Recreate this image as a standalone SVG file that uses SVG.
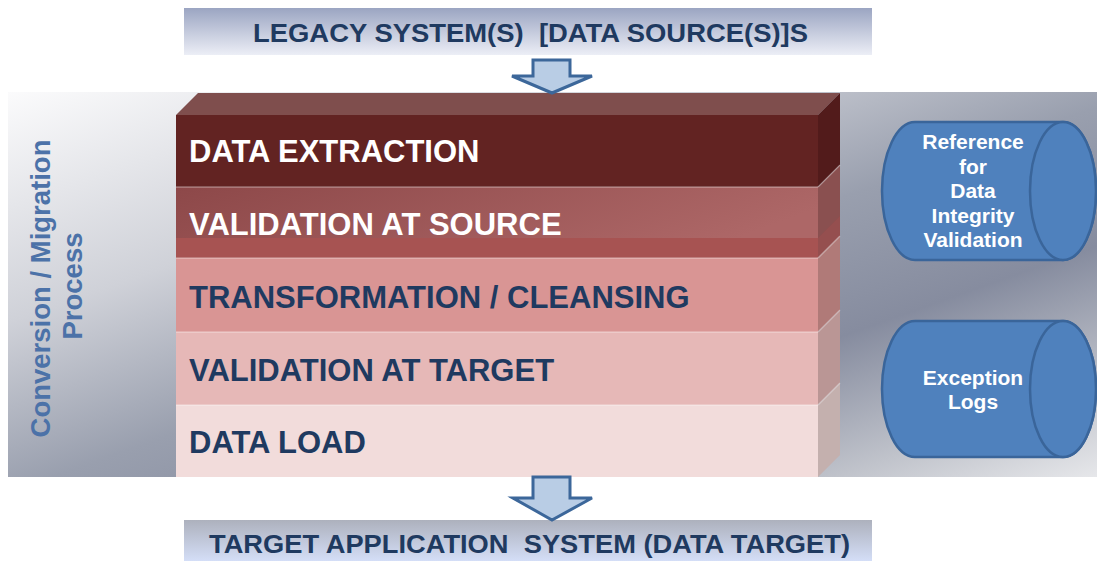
<svg xmlns="http://www.w3.org/2000/svg" width="1097" height="562" viewBox="0 0 1097 562">
<defs>
<linearGradient id="gTop" x1="0" y1="0" x2="0" y2="1">
<stop offset="0" stop-color="#9ba5c2"/><stop offset="1" stop-color="#eceef6"/>
</linearGradient>
<linearGradient id="gBot" x1="0" y1="0" x2="0" y2="1">
<stop offset="0" stop-color="#adb1bd"/><stop offset="1" stop-color="#d4def7"/>
</linearGradient>
<linearGradient id="gPanel" x1="0" y1="0" x2="1" y2="1">
<stop offset="0" stop-color="#fbfbfc"/>
<stop offset="0.3" stop-color="#cfd1d8"/>
<stop offset="0.52" stop-color="#999fae"/>
<stop offset="0.7" stop-color="#868c9f"/>
<stop offset="0.88" stop-color="#c0c3cb"/>
<stop offset="1" stop-color="#e6e7ea"/>
</linearGradient>
<linearGradient id="gRow2" x1="0" y1="0" x2="1" y2="0.3">
<stop offset="0" stop-color="#8d4849"/><stop offset="1" stop-color="#ad6767"/>
</linearGradient>
</defs>
<style>
.lbl{font-family:"Liberation Sans",Arial,sans-serif;font-weight:bold;}
.hdr{font-size:25px;fill:#1f3a60;white-space:pre;}
.row{font-size:31px;}
.dark{fill:#ffffff;}
.light{fill:#1f3a60;}
.side-lbl{font-size:27.5px;fill:#4c72a8;}
.cyl{fill:#4f81bd;stroke:#3a659a;stroke-width:2.5;}
.cyltxt{font-size:21px;fill:#ffffff;text-anchor:middle;}
.sep{stroke:#ffffff;stroke-opacity:0.35;stroke-width:1.5;fill:none;}
.arrow{fill:#b9cde5;stroke:#3c679a;stroke-width:3;stroke-linejoin:miter;}
</style>

<g id="legacy">
<rect x="184" y="8" width="688" height="47" fill="url(#gTop)"/>
<text class="lbl hdr" x="253" y="42" textLength="555" lengthAdjust="spacingAndGlyphs">LEGACY SYSTEM(S)  [DATA SOURCE(S)]S</text>
</g>

<g id="panel">
<rect x="8" y="92" width="1089" height="385" fill="url(#gPanel)"/>
</g>

<g id="process-label">
<text class="lbl side-lbl" transform="translate(50,288.5) rotate(-90)" text-anchor="middle">Conversion / Migration</text>
<text class="lbl side-lbl" transform="translate(82,286) rotate(-90)" text-anchor="middle">Process</text>
</g>

<g id="stack-top">
<polygon points="176,115 198,93 840,93 818,115" fill="#7f4e4d"/>
</g>

<g id="layer-extraction">
<rect x="176" y="115" width="642" height="72" fill="#622322"/>
<polygon points="818,115 840,93 840,165 818,187" fill="#521b1b"/>
<text class="lbl row dark" x="189" y="162">DATA EXTRACTION</text>
</g>

<g id="layer-validation-source">
<rect x="176" y="187" width="642" height="71" fill="url(#gRow2)"/>
<rect x="176" y="238" width="642" height="20" fill="#a75352"/>
<polygon points="818,187 840,165 840,236 818,258" fill="#8a5050"/>
<polygon points="818,238 840,216 840,236 818,258" fill="#9a4f4f" opacity="0.7"/>
<line class="sep" x1="176" y1="187" x2="818" y2="187"/>
<line class="sep" x1="818" y1="187" x2="840" y2="165"/>
<text class="lbl row dark" x="189" y="235">VALIDATION AT SOURCE</text>
</g>

<g id="layer-transformation">
<rect x="176" y="258" width="642" height="74" fill="#d99594"/>
<polygon points="818,258 840,236 840,310 818,332" fill="#b07a78"/>
<line class="sep" x1="176" y1="258" x2="818" y2="258"/>
<line class="sep" x1="818" y1="258" x2="840" y2="236"/>
<text class="lbl row light" x="189" y="308">TRANSFORMATION / CLEANSING</text>
</g>

<g id="layer-validation-target">
<rect x="176" y="332" width="642" height="73" fill="#e6b8b7"/>
<polygon points="818,332 840,310 840,383 818,405" fill="#ba9695"/>
<line class="sep" x1="176" y1="332" x2="818" y2="332"/>
<line class="sep" x1="818" y1="332" x2="840" y2="310"/>
<text class="lbl row light" x="189" y="381">VALIDATION AT TARGET</text>
</g>

<g id="layer-data-load">
<rect x="176" y="405" width="642" height="72" fill="#f2dcdb"/>
<polygon points="818,405 840,383 840,455 818,477" fill="#c4b0ae"/>
<line class="sep" x1="176" y1="405" x2="818" y2="405"/>
<line class="sep" x1="818" y1="405" x2="840" y2="383"/>
<text class="lbl row light" x="189" y="453">DATA LOAD</text>
</g>

<g id="reference-cylinder">
<path class="cyl" d="M915,122 L1063,122 A33,69 0 0 1 1063,260 L915,260 A33,69 0 0 1 915,122 Z"/>
<ellipse class="cyl" cx="1063" cy="191" rx="33" ry="69"/>
<text class="lbl cyltxt" x="973" y="149">Reference</text>
<text class="lbl cyltxt" x="973" y="174">for</text>
<text class="lbl cyltxt" x="973" y="198">Data</text>
<text class="lbl cyltxt" x="973" y="223">Integrity</text>
<text class="lbl cyltxt" x="973" y="247">Validation</text>
</g>

<g id="exception-cylinder">
<path class="cyl" d="M915,321 L1063,321 A33,68 0 0 1 1063,457 L915,457 A33,68 0 0 1 915,321 Z"/>
<ellipse class="cyl" cx="1063" cy="389" rx="33" ry="68"/>
<text class="lbl cyltxt" x="973" y="385">Exception</text>
<text class="lbl cyltxt" x="973" y="409">Logs</text>
</g>

<g id="target">
<rect x="184" y="520" width="688" height="41" fill="url(#gBot)"/>
<text class="lbl hdr" style="font-size:26px" x="209" y="553" textLength="641" lengthAdjust="spacingAndGlyphs">TARGET APPLICATION  SYSTEM (DATA TARGET)</text>
</g>

<g id="connectors">
<path class="arrow" d="M533,60 L570,60 L570,76 L592,76 L552,93 L512,76 L533,76 Z"/>
<path class="arrow" d="M533,477 L570,477 L570,498 L592,498 L552,520 L513,498 L533,498 Z"/>
</g>
</svg>
